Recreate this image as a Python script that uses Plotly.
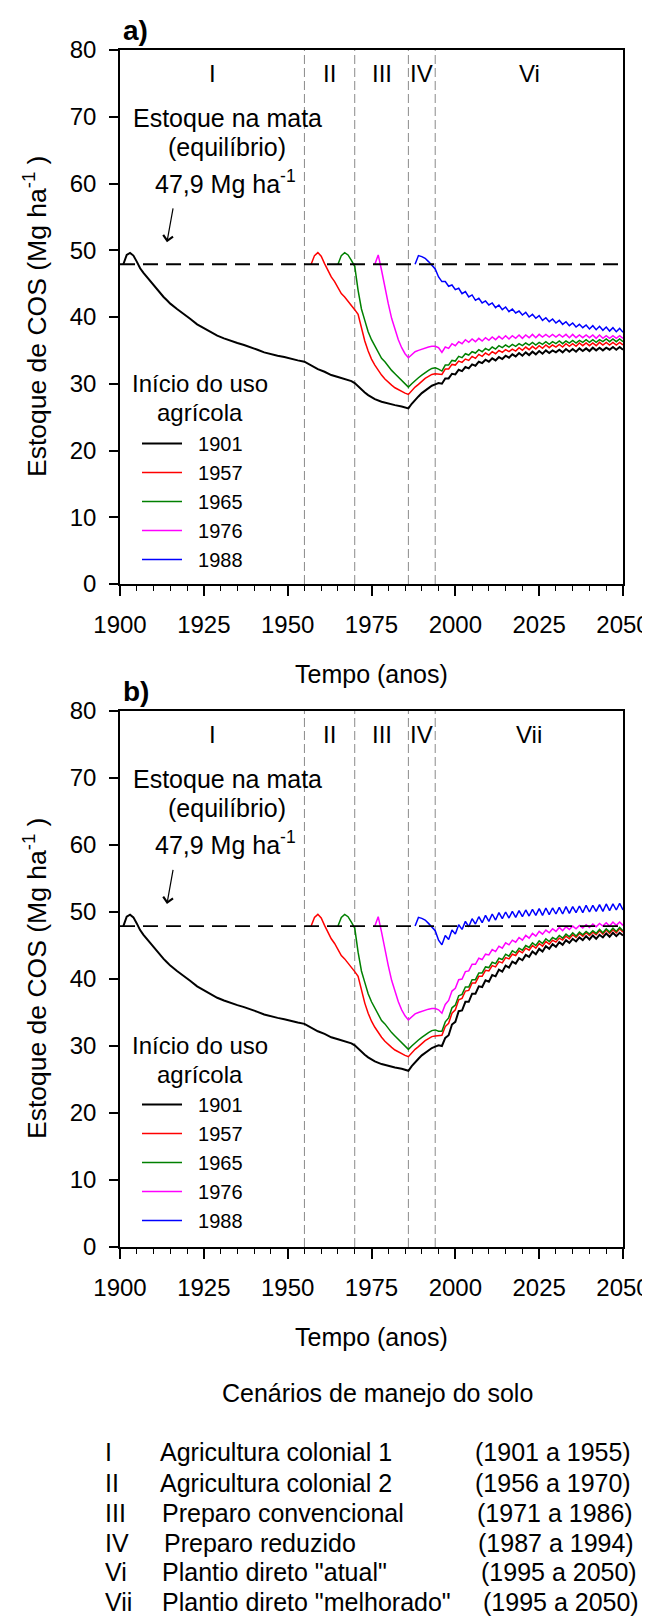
import plotly.graph_objects as go

W, H = 650, 1616
FONT = "Liberation Sans, Arial, sans-serif"

# ---------------- data ----------------
series_names = ["1901", "1957", "1965", "1976", "1988"]
series_colors = ["#000000", "#ff0000", "#008000", "#ff00ff", "#0000ff"]

# common history (until 1994)
black_hist_years = [1901, 1902, 1903, 1904, 1905, 1906, 1907, 1908, 1909, 1910, 1911, 1912, 1913, 1914, 1915,
                    1917, 1919, 1921, 1923, 1925, 1927, 1929, 1931, 1933, 1935, 1937, 1939, 1941, 1943, 1945,
                    1947, 1949, 1951, 1953, 1955, 1957, 1959, 1961, 1963, 1965, 1967, 1969, 1970, 1971, 1972,
                    1973, 1974, 1975, 1976, 1978, 1980, 1982, 1984, 1986, 1987, 1988, 1989, 1990, 1991, 1992,
                    1993, 1994]
black_hist = [47.9, 49.3, 49.6, 49.2, 48.3, 47.3, 46.6, 46.0, 45.3, 44.7, 44.1, 43.5, 43.0, 42.5, 42.0,
              41.2, 40.5, 39.7, 38.9, 38.3, 37.7, 37.2, 36.8, 36.4, 36.1, 35.8, 35.5, 35.1, 34.7, 34.4,
              34.2, 34.0, 33.7, 33.5, 33.3, 32.7, 32.2, 31.8, 31.3, 31.0, 30.7, 30.4, 30.1, 29.6, 29.1,
              28.7, 28.3, 28.0, 27.7, 27.3, 27.0, 26.8, 26.6, 26.3, 27.0, 27.6, 28.1, 28.6, 29.0, 29.4,
              29.7, 29.9]
red_hist_years = list(range(1957, 1995))
red_hist = [47.9, 49.2, 49.65, 49.1, 48.0, 47.0, 46.0, 45.3, 44.5, 43.5,
            43.0, 42.4, 41.7, 41.1, 40.4, 38.2, 36.4, 34.9, 33.7, 32.8,
            32.0, 31.3, 30.7, 30.2, 29.8, 29.4, 29.1, 28.8, 28.6, 28.4,
            29.0, 29.5, 29.9, 30.4, 30.8, 31.1, 31.4, 31.5]
green_hist_years = list(range(1965, 1995))
green_hist = [47.9, 49.2, 49.65, 49.3, 48.5, 47.6, 44.0, 41.2, 39.5, 37.8,
              36.6, 35.7, 34.7, 33.8, 33.3, 32.6, 32.0, 31.5, 31.0, 30.5,
              30.0, 29.5, 30.0, 30.5, 30.9, 31.3, 31.7, 32.0, 32.3, 32.4]
magenta_hist_years = list(range(1976, 1995))
magenta_hist = [47.9, 49.3, 47.0, 44.2, 42.0, 39.8, 38.0, 36.6, 35.4, 34.5,
                33.9, 34.3, 34.8, 35.0, 35.2, 35.4, 35.5, 35.6, 35.6]
blue_hist_years = list(range(1988, 1995))
blue_hist = [47.9, 49.2, 49.05, 48.8, 48.3, 47.8, 47.2]

future_years = list(range(1995, 2051))

# scenario Vi (panel a), 1995-2050
black_vi = [30.1, 30.0, 30.8, 30.8, 31.5, 31.4, 32.1, 31.9, 32.5, 32.3,
            32.9, 32.7, 33.3, 33.1, 33.6, 33.3, 33.8, 33.5, 34.0, 33.7,
            34.2, 33.9, 34.4, 34.1, 34.6, 34.2, 34.7, 34.3, 34.8, 34.4,
            34.9, 34.5, 35.0, 34.6, 35.0, 34.7, 35.1, 34.7, 35.2, 34.8,
            35.2, 34.8, 35.3, 34.9, 35.3, 34.9, 35.4, 35.0, 35.4, 35.0,
            35.4, 35.1, 35.5, 35.1, 35.5, 35.1]
red_vi = [31.5, 31.4, 32.2, 32.2, 32.9, 32.8, 33.4, 33.2, 33.7, 33.5,
          34.1, 33.8, 34.4, 34.1, 34.6, 34.3, 34.8, 34.5, 35.0, 34.7,
          35.1, 34.8, 35.2, 34.9, 35.4, 35.0, 35.5, 35.1, 35.6, 35.2,
          35.7, 35.3, 35.8, 35.4, 35.8, 35.5, 35.9, 35.5, 36.0, 35.6,
          36.0, 35.6, 36.1, 35.7, 36.1, 35.7, 36.1, 35.7, 36.2, 35.8,
          36.2, 35.8, 36.2, 35.8, 36.2, 35.8]
green_vi = [32.2, 31.9, 32.8, 32.8, 33.5, 33.4, 34.1, 33.9, 34.5, 34.3,
            34.8, 34.6, 35.1, 34.8, 35.3, 35.0, 35.5, 35.2, 35.7, 35.4,
            35.8, 35.5, 35.9, 35.6, 36.0, 35.7, 36.1, 35.8, 36.2, 35.8,
            36.2, 35.9, 36.3, 35.9, 36.3, 36.0, 36.4, 36.0, 36.4, 36.1,
            36.5, 36.1, 36.5, 36.2, 36.6, 36.2, 36.6, 36.2, 36.6, 36.3,
            36.7, 36.3, 36.7, 36.3, 36.7, 36.3]
magenta_vi = [35.4, 34.7, 35.5, 35.3, 36.0, 35.7, 36.3, 36.0, 36.6, 36.2,
              36.7, 36.3, 36.8, 36.4, 36.9, 36.5, 37.0, 36.6, 37.1, 36.7,
              37.2, 36.7, 37.2, 36.8, 37.3, 36.8, 37.3, 36.9, 37.4, 36.9,
              37.4, 37.0, 37.4, 37.0, 37.4, 37.0, 37.4, 37.0, 37.4, 36.9,
              37.4, 36.9, 37.3, 36.9, 37.3, 36.9, 37.3, 36.8, 37.3, 36.8,
              37.2, 36.8, 37.2, 36.8, 37.2, 36.8]
blue_vi = [46.0, 45.3, 45.3, 44.6, 44.8, 44.1, 44.3, 43.5, 43.8, 43.0,
           43.3, 42.5, 42.8, 42.1, 42.4, 41.8, 42.1, 41.4, 41.8, 41.1,
           41.5, 40.8, 41.2, 40.6, 40.9, 40.3, 40.7, 40.0, 40.4, 39.8,
           40.2, 39.5, 39.9, 39.3, 39.7, 39.1, 39.5, 38.9, 39.3, 38.7,
           39.1, 38.5, 38.9, 38.4, 38.8, 38.2, 38.7, 38.1, 38.6, 38.0,
           38.5, 37.9, 38.4, 37.8, 38.3, 37.7]

# scenario Vii (panel b), 1995-2050
black_vii = [30.1, 30.0, 31.2, 31.6, 33.2, 33.6, 35.2, 35.3, 36.6, 36.6,
             37.8, 37.8, 38.9, 38.8, 39.8, 39.6, 40.6, 40.4, 41.4, 41.1,
             42.0, 41.7, 42.6, 42.3, 43.1, 42.8, 43.6, 43.3, 44.1, 43.7,
             44.5, 44.1, 44.9, 44.5, 45.2, 44.8, 45.5, 45.1, 45.8, 45.4,
             46.0, 45.6, 46.2, 45.8, 46.4, 45.9, 46.5, 46.0, 46.6, 46.2,
             46.8, 46.3, 46.9, 46.4, 46.9, 46.5]
red_vii = [31.6, 31.6, 32.9, 33.4, 34.9, 35.4, 36.9, 37.1, 38.2, 38.3,
           39.4, 39.4, 40.4, 40.4, 41.3, 41.2, 42.0, 41.8, 42.6, 42.4,
           43.2, 43.0, 43.7, 43.5, 44.2, 43.9, 44.6, 44.3, 45.0, 44.6,
           45.3, 44.9, 45.6, 45.2, 45.8, 45.5, 46.1, 45.8, 46.4, 46.0,
           46.6, 46.2, 46.8, 46.4, 46.9, 46.5, 47.0, 46.6, 47.2, 46.7,
           47.3, 46.8, 47.4, 46.9, 47.5, 47.0]
green_vii = [32.2, 32.2, 33.6, 34.2, 35.7, 36.1, 37.5, 37.7, 38.8, 38.8,
             39.9, 39.9, 40.9, 40.9, 41.8, 41.7, 42.5, 42.3, 43.1, 42.9,
             43.7, 43.4, 44.2, 43.9, 44.6, 44.3, 45.0, 44.7, 45.4, 45.0,
             45.7, 45.3, 46.0, 45.6, 46.2, 45.9, 46.5, 46.1, 46.7, 46.3,
             46.9, 46.4, 47.0, 46.6, 47.1, 46.7, 47.2, 46.8, 47.4, 46.9,
             47.5, 47.0, 47.6, 47.1, 47.7, 47.2]
magenta_vii = [35.4, 34.9, 36.2, 36.8, 38.2, 38.6, 39.9, 40.0, 41.1, 41.2,
               42.2, 42.2, 43.1, 42.9, 43.7, 43.6, 44.4, 44.1, 44.9, 44.6,
               45.4, 45.1, 45.8, 45.5, 46.2, 45.8, 46.5, 46.1, 46.8, 46.4,
               47.1, 46.7, 47.3, 46.9, 47.5, 47.1, 47.7, 47.2, 47.8, 47.4,
               47.9, 47.5, 48.0, 47.6, 48.1, 47.7, 48.2, 47.8, 48.3, 47.9,
               48.4, 47.9, 48.5, 48.0, 48.5, 48.0]
blue_vii = [45.8, 45.1, 46.5, 45.9, 47.3, 46.7, 48.1, 47.4, 48.6, 47.8,
            49.0, 48.2, 49.3, 48.4, 49.5, 48.6, 49.7, 48.8, 49.9, 49.0,
            50.0, 49.1, 50.1, 49.2, 50.2, 49.3, 50.3, 49.4, 50.4, 49.5,
            50.5, 49.5, 50.6, 49.6, 50.6, 49.7, 50.7, 49.7, 50.8, 49.8,
            50.8, 49.9, 50.9, 49.9, 51.0, 50.0, 51.0, 50.1, 51.1, 50.1,
            51.2, 50.2, 51.2, 50.3, 51.3, 50.3]

equilibrium = 47.9
period_bounds = [1900, 1955, 1970, 1986, 1994, 2050]
period_labels_a = ["I", "II", "III", "IV", "Vi"]
period_labels_b = ["I", "II", "III", "IV", "Vii"]

x_ticks = [1900, 1925, 1950, 1975, 2000, 2025, 2050]
y_ticks = [0, 10, 20, 30, 40, 50, 60, 70, 80]

scen_codes = ["I", "II", "III", "IV", "Vi", "Vii"]
scen_names = ["Agricultura colonial 1", "Agricultura colonial 2", "Preparo convencional",
              "Preparo reduzido", 'Plantio direto "atual"', 'Plantio direto "melhorado"']
scen_periods = ["(1901 a 1955)", "(1956 a 1970)", "(1971 a 1986)", "(1987 a 1994)",
                "(1995 a 2050)", "(1995 a 2050)"]

hist = [(black_hist_years, black_hist), (red_hist_years, red_hist), (green_hist_years, green_hist),
        (magenta_hist_years, magenta_hist), (blue_hist_years, blue_hist)]
fut_a = [black_vi, red_vi, green_vi, magenta_vi, blue_vi]
fut_b = [black_vii, red_vii, green_vii, magenta_vii, blue_vii]
for f in fut_a + fut_b:
    assert len(f) == len(future_years), len(f)
for hy, hv in hist:
    assert len(hy) == len(hv)

# ---------------- geometry helpers ----------------
OFF = 8  # page body margin of the html page

def px(x):
    return (x - OFF) / W

def py(y):
    return 1 - (y - OFF) / H

X0, X1 = 120, 623
PANELS = [(50, 584), (711, 1247)]
NBSP = "\u00a0"

fig = go.Figure()

for p, fut in enumerate([fut_a, fut_b]):
    xa = "x" if p == 0 else "x2"
    ya = "y" if p == 0 else "y2"
    leg = "legend" if p == 0 else "legend2"
    for i in range(5):
        hy, hv = hist[i]
        fig.add_trace(go.Scatter(
            x=hy + future_years, y=hv + fut[i], mode="lines",
            name=NBSP * 2 + series_names[i], legend=leg,
            line=dict(color=series_colors[i], width=2.0 if i == 0 else 1.5),
            xaxis=xa, yaxis=ya, showlegend=True))

axis_common = dict(showline=True, mirror=True, linecolor="black", linewidth=1.5,
                   showgrid=False, zeroline=False, ticks="outside", tickcolor="black",
                   tickwidth=1.5, automargin=False,
                   tickfont=dict(size=24, color="black", family=FONT))

layout = dict(template="none", width=W, height=H,
              margin=dict(l=0, r=0, t=0, b=0, pad=0, autoexpand=False),
              paper_bgcolor="white", plot_bgcolor="white",
              font=dict(family=FONT, color="black"))

for p, (top, bot) in enumerate(PANELS):
    sfx = "" if p == 0 else "2"
    layout["xaxis" + sfx] = dict(
        axis_common, domain=[px(X0), px(X1)], range=[1900, 2050], tickvals=x_ticks,
        ticklen=10, ticklabelstandoff=8, anchor="y" + sfx,
        minor=dict(dtick=5, tick0=1900, ticks="outside", ticklen=5, tickwidth=1, tickcolor="black"))
    layout["yaxis" + sfx] = dict(
        axis_common, domain=[py(bot), py(top)], range=[0, 80], tickvals=y_ticks,
        ticklen=9, ticklabelstandoff=8, anchor="x" + sfx)

shapes = []
annotations = []

def note(x, y, text, size=25, xanchor="center", **kw):
    d = dict(x=x, y=y, xref="paper", yref="paper", text=text, showarrow=False,
             xanchor=xanchor, yanchor="middle", font=dict(size=size))
    d.update(kw)
    annotations.append(d)

for p, (top, bot) in enumerate(PANELS):
    xr = "x" if p == 0 else "x2"
    yr = "y" if p == 0 else "y2"
    for b in period_bounds[1:-1]:
        shapes.append(dict(type="line", xref=xr, yref=yr + " domain", x0=b, x1=b, y0=0, y1=1,
                           line=dict(color="#8a8a8a", width=1, dash="9px,4px"), layer="below"))
    shapes.append(dict(type="line", xref=xr + " domain", yref=yr, x0=0, x1=1,
                       y0=equilibrium, y1=equilibrium,
                       line=dict(color="black", width=1.8, dash="15px,8px")))
    labels = period_labels_a if p == 0 else period_labels_b
    for k, lab in enumerate(labels):
        mid = (period_bounds[k] + period_bounds[k + 1]) / 2
        annotations.append(dict(x=mid, y=76.5, xref=xr, yref=yr, text=lab, showarrow=False,
                                font=dict(size=24)))
    annotations.append(dict(x=1932.2, y=69.8, xref=xr, yref=yr, text="Estoque na mata",
                            showarrow=False, font=dict(size=25)))
    annotations.append(dict(x=1932.0, y=65.5, xref=xr, yref=yr, text="(equilíbrio)",
                            showarrow=False, font=dict(size=25)))
    annotations.append(dict(x=1931.6, y=60.3, xref=xr, yref=yr,
                            text="47,9 Mg ha<sup>-1</sup>", showarrow=False, font=dict(size=25)))
    annotations.append(dict(x=1914.0, y=51.2, xref=xr, yref=yr, ax=1915.9, ay=56.5,
                            axref=xr, ayref=yr, text="", showarrow=True, arrowhead=4,
                            arrowsize=1.6, arrowwidth=1.2, arrowcolor="black"))
    # legend heading
    annotations.append(dict(x=1923.9, y=30.1, xref=xr, yref=yr, text="Início do uso",
                            showarrow=False, font=dict(size=24)))
    annotations.append(dict(x=1923.9, y=25.7, xref=xr, yref=yr, text="agrícola",
                            showarrow=False, font=dict(size=24)))
    # panel letter
    note(px(121), py(top - 20), "<b>" + ("a)" if p == 0 else "b)") + "</b>", size=28,
         xanchor="left")
    # axis titles
    note(px((X0 + X1) / 2), py(bot + 90), "Tempo (anos)")
    note(px(35), py((top + bot) / 2), "Estoque de COS (Mg ha<sup>-1</sup> )", size=26.5,
         textangle=-90)

note(px(377), py(1393), "Cenários de manejo do solo")
row_y = [1452, 1483, 1513, 1543, 1572, 1602]
name_x = [158, 158, 160, 162, 160, 160]
date_x = [473, 473, 475, 476, 479, 481]
for k in range(6):
    note(px(103), py(row_y[k]), scen_codes[k], xanchor="left")
    note(px(name_x[k]), py(row_y[k]), scen_names[k], xanchor="left")
    note(px(date_x[k]), py(row_y[k]), scen_periods[k], xanchor="left")

layout["shapes"] = shapes
layout["annotations"] = annotations

for p, (top, bot) in enumerate(PANELS):
    key = "legend" if p == 0 else "legend2"
    layout[key] = dict(x=px(137), y=py(top + 374), xanchor="left", yanchor="top",
                       bgcolor="rgba(0,0,0,0)", borderwidth=0, itemwidth=40,
                       font=dict(size=20, color="black", family=FONT),
                       itemclick=False, itemdoubleclick=False)

fig.update_layout(**layout)
fig.write_html("out.html")
